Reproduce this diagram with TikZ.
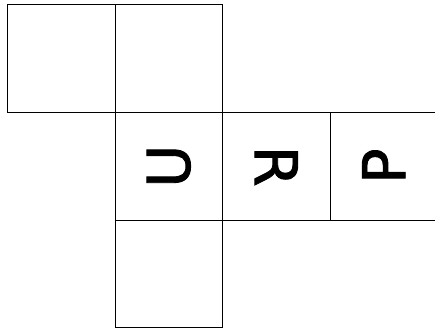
\documentclass[tikz,border=0pt]{standalone}
\usepackage{fontspec}
\setmainfont{DejaVu Sans}
\newfontfamily\lblfont[FakeBold=1.5]{DejaVu Sans}
\begin{document}
\begin{tikzpicture}[x=1pt,y=-1pt,
  face/.style={draw=black, line width=1pt, minimum size=107.5pt, inner sep=0pt, outer sep=0pt, anchor=north west},
  lbl/.style={font=\lblfont\fontsize{59}{60}\selectfont, inner sep=0pt}]
\useasboundingbox (0,0) rectangle (435,329);
\node[face] (tl) at (7.5,5) {};
\node[face] (tm) at (115,5) {};
\node[face] (mu) at (115,112.5) {};
\node[face] (mr) at (222.5,112.5) {};
\node[face] (mp) at (330,112.5) {};
\node[face] (bm) at (115,220) {};
\node[lbl, rotate=90] (lu) at (mu.center) {U};
\node[lbl, rotate=-90] (lr) at (mr.center) {R};
\node[lbl, rotate=90] (lp) at (mp.center) {P};
\end{tikzpicture}
\end{document}
